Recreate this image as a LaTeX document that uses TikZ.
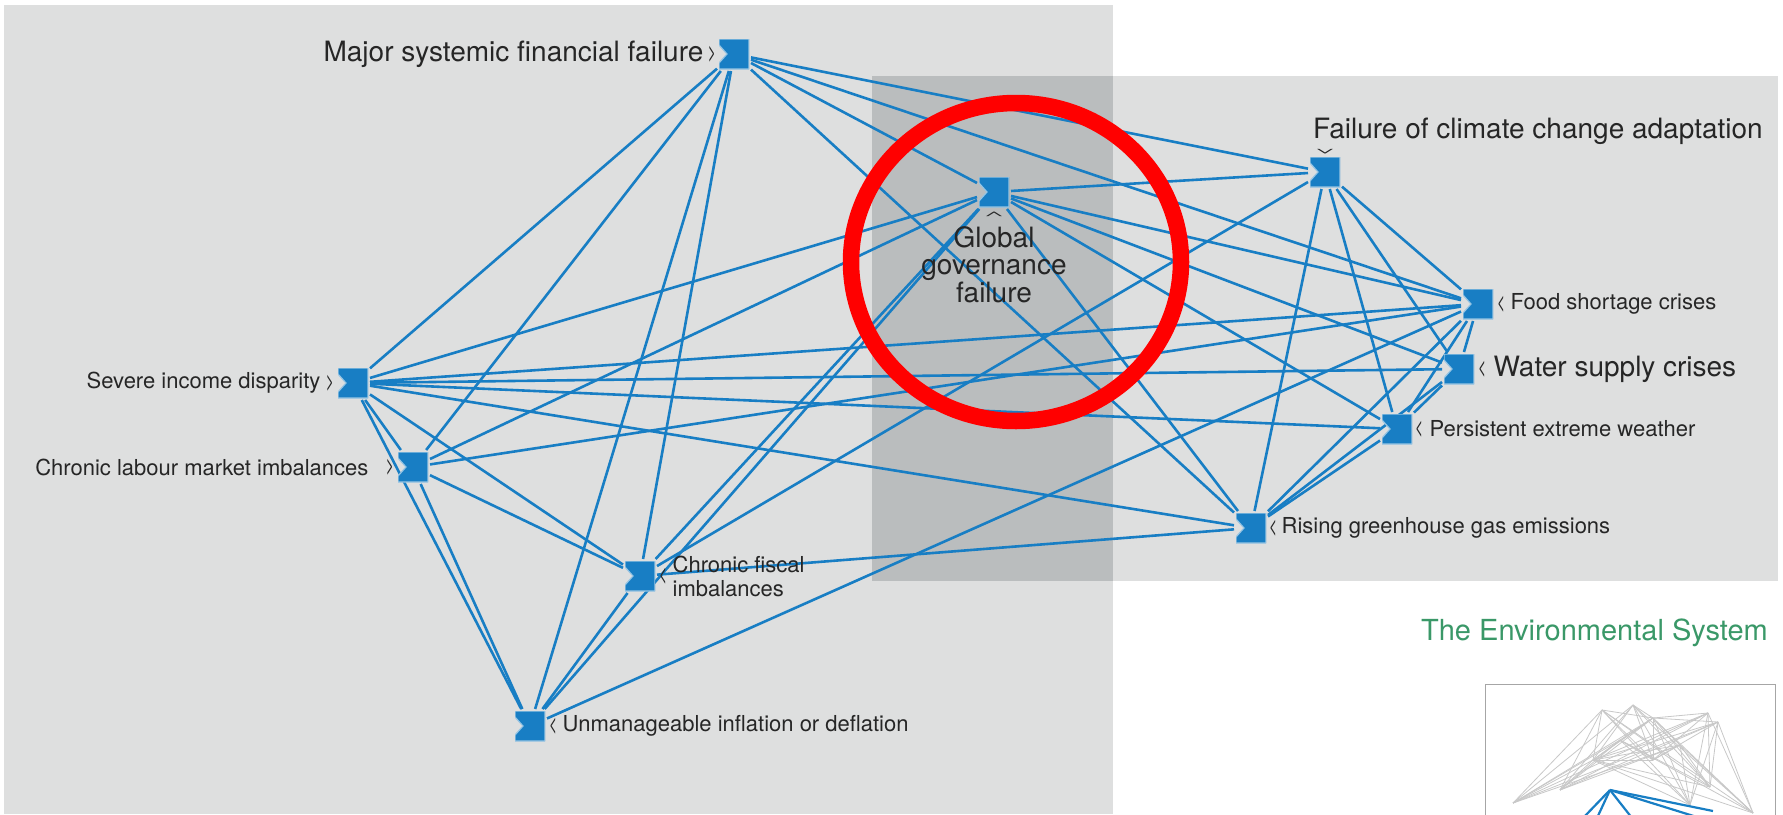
\documentclass[tikz,border=0pt]{standalone}
\usepackage{fontspec}
\usepackage{graphicx}
\setmainfont{TeX Gyre Heros}
\usetikzlibrary{positioning}

\definecolor{riskblue}{RGB}{24,126,196}
\definecolor{panelgray}{RGB}{222,223,223}
\definecolor{overlapgray}{RGB}{186,189,190}
\definecolor{labelgray}{RGB}{38,38,38}
\definecolor{envgreen}{RGB}{58,152,104}
\definecolor{ringred}{RGB}{255,0,0}
\definecolor{meshgray}{RGB}{200,200,200}

\pgfdeclarelayer{panels}
\pgfdeclarelayer{links}
\pgfsetlayers{panels,links,main}

\begin{document}
\begin{tikzpicture}[x=1pt, y=-1pt,
    risk/.style={minimum size=30pt, inner sep=0pt, outer sep=2pt,
      path picture={\fill[riskblue, draw=riskblue!45!white, line width=1.2pt,
        shift={(path picture bounding box.center)}, rotate=#1]
        (-15pt,-15pt) -- (15pt,-15pt) -- (15pt,15pt) -- (-15pt,15pt)
        -- (-15pt,9pt) -- (-7pt,0pt) -- (-15pt,-9pt) -- cycle;}},
    risk/.default=0,
    link/.style={riskblue, line width=2.6pt},
    chev/.style={inner sep=0pt, text=labelgray, font=\fontsize{25}{25}\selectfont},
    small/.style={inner sep=0pt, text=labelgray, font=\fontsize{22}{24}\selectfont},
    big/.style={inner sep=0pt, text=labelgray, font=\fontsize{28}{27.5}\selectfont}]

    \useasboundingbox (0,0) rectangle (1783,814);

    % grey panels
    \begin{pgfonlayer}{panels}
        \fill[panelgray] (4,5) rectangle (1113,814);
        \fill[panelgray] (872,76) rectangle (1778,581);
        \fill[overlapgray] (872,76) rectangle (1113,581);
    \end{pgfonlayer}

    % risks
    \node[risk=0] (major) at (734,54) {};
    \node[risk=90] (gov) at (994,192) {};
    \node[risk=-90] (climate) at (1325,172) {};
    \node[risk=180] (food) at (1478,304) {};
    \node[risk=180] (water) at (1459,369) {};
    \node[risk=180] (weather) at (1397,429) {};
    \node[risk=180] (ghg) at (1251,528) {};
    \node[risk=0] (income) at (353,383) {};
    \node[risk=0] (labour) at (413,467) {};
    \node[risk=180] (fiscal) at (640,576) {};
    \node[risk=180] (inflation) at (530,726) {};

    % labels
    \node[chev, left=1pt of major] (majorc) {\scalebox{0.55}[1]{>}};
    \node[big, left=4pt of majorc] (majorl) {Major systemic financial failure};

    \node[chev, rotate=-90] (govc) at (994,215) {\scalebox{0.55}[1]{<}};
    \node[big, align=center, anchor=north] (govl) at (994,226) {Global\\governance\\failure};

    \node[chev, rotate=90] (climatec) at (1325,151) {\scalebox{0.55}[1]{<}};
    \node[big, anchor=west] (climatel) at (1313,131) {Failure of climate change adaptation};

    \node[chev, right=2pt of food] (foodc) {\scalebox{0.55}[1]{<}};
    \node[small, right=5pt of foodc] (foodl) {Food shortage crises};

    \node[chev, right=2pt of water] (waterc) {\scalebox{0.55}[1]{<}};
    \node[big, right=7pt of waterc] (waterl) {Water supply crises};

    \node[chev, right=1pt of weather] (weatherc) {\scalebox{0.55}[1]{<}};
    \node[small, right=6pt of weatherc] (weatherl) {Persistent extreme weather};

    \node[chev, right=1pt of ghg] (ghgc) {\scalebox{0.55}[1]{<}};
    \node[small, right=4pt of ghgc] (ghgl) {Rising greenhouse gas emissions};

    \node[chev, left=2pt of income] (incomec) {\scalebox{0.55}[1]{>}};
    \node[small, left=5pt of incomec] (incomel) {Severe income disparity};

    \node[chev, left=2pt of labour] (labourc) {\scalebox{0.55}[1]{>}};
    \node[small, left=17pt of labourc] (labourl) {Chronic labour market imbalances};

    \node[chev, right=2pt of fiscal] (fiscalc) {\scalebox{0.55}[1]{<}};
    \node[small, align=left, right=5pt of fiscalc] (fiscall) {Chronic fiscal\\imbalances};

    \node[chev, right=2pt of inflation] (inflationc) {\scalebox{0.55}[1]{<}};
    \node[small, right=5pt of inflationc] (inflationl) {Unmanageable inflation or deflation};

    % interconnections
    \begin{pgfonlayer}{links}
        \foreach \a/\b in {major/income, major/labour, major/fiscal, major/inflation,
                major/gov, major/climate, major/food, major/ghg,
                gov/income, gov/labour, gov/fiscal, gov/inflation, gov/climate,
                gov/food, gov/water, gov/weather, gov/ghg,
                climate/fiscal, climate/ghg, climate/weather, climate/water, climate/food,
                food/income, food/labour, food/inflation, food/water, food/weather, food/ghg,
                water/income, water/weather, water/ghg,
                weather/income, weather/ghg,
                ghg/income, ghg/fiscal,
                income/labour, income/inflation, income/fiscal,
                labour/fiscal, labour/inflation,
                fiscal/inflation}
            \draw[link] (\a) -- (\b);
    \end{pgfonlayer}

    % small system map
    \node[inner sep=0pt, text=envgreen, font=\fontsize{29}{29}\selectfont, anchor=east]
        (envtitle) at (1768,633) {The Environmental System};
    \begin{scope}
        \clip (1485,684) rectangle (1775,814);
        \coordinate (m1) at (1602,710); \coordinate (m2) at (1633,705);
        \coordinate (m3) at (1653,718); \coordinate (m4) at (1708,713);
        \coordinate (m5) at (1718,722); \coordinate (m6) at (1513,803);
        \coordinate (m7) at (1753,813); \coordinate (m8) at (1593,760);
        \coordinate (m9) at (1710,787); \coordinate (m10) at (1653,760);
        \coordinate (m11) at (1620,740); \coordinate (m12) at (1680,745);
        \coordinate (m13) at (1560,790); \coordinate (m14) at (1690,805);
        \foreach \p in {m1,m2,m3,m4,m5,m8,m11,m12}
            \foreach \q in {m6,m7,m9,m10,m13,m14,m3,m8}
                \draw[meshgray, line width=0.8pt] (\p) -- (\q);
        \coordinate (hub) at (1610,790);
        \foreach \q in {(1713,811), (1583,818), (1597,818), (1632,818), (1700,818)}
            \draw[riskblue, line width=2.2pt] (hub) -- \q;
    \end{scope}
    \draw[gray!70, line width=1pt] (1485,684) rectangle (1775,830);

    % highlight ring
    \draw[ringred, line width=16.5pt] (1016,262) ellipse [x radius=165pt, y radius=159pt];
\end{tikzpicture}
\end{document}
